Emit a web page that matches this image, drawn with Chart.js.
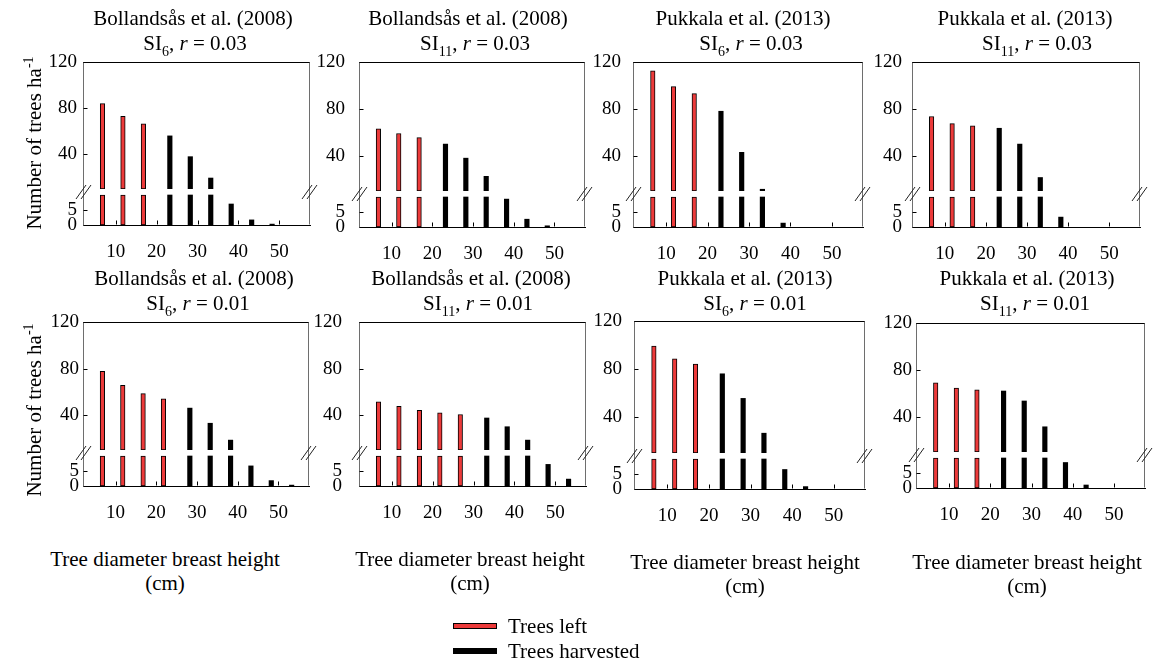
<!DOCTYPE html>
<html lang="en">
<head>
<meta charset="utf-8">
<title>Trees left and harvested by diameter class</title>
<script src="https://cdn.jsdelivr.net/npm/chart.js@4.4.1/dist/chart.umd.min.js"></script>
<style>
  html, body { margin: 0; padding: 0; background: #fff; }
  body {
    position: relative; width: 1167px; height: 666px; overflow: hidden;
    font-family: "Liberation Serif", "Times New Roman", serif; color: #000;
  }
  .panel { position: absolute; }
  .txt {
    position: absolute; font-size: 21px; line-height: 24px;
    white-space: nowrap; transform: translateX(-50%);
  }
  .txt sub { font-size: 14px; line-height: 0; vertical-align: -6px; }
  .ylab {
    position: absolute; font-size: 21px; line-height: 24px; white-space: nowrap;
    transform: translate(-50%, -50%) rotate(-90deg);
  }
  .ylab sup { font-size: 14px; line-height: 0; vertical-align: 8px; }
  .swatch { position: absolute; width: 44px; height: 6px; box-sizing: border-box; }
  .legtxt { position: absolute; font-size: 21px; line-height: 24px; white-space: nowrap; }
</style>
</head>
<body>
<script>
// diameter class mid points (cm) and axis tick values
const classes = [7.5, 12.5, 17.5, 22.5, 27.5, 32.5, 37.5, 42.5, 47.5, 52.5];
const xTicks = [10, 20, 30, 40, 50];
const upperTicks = [40, 80, 120];
const lowerTicks = [0, 5];

// trees per ha left standing / harvested in each diameter class
const bollSI6r03Left = [84, 73, 66.5, null, null, null, null, null, null, null];
const bollSI6r03Cut = [null, null, null, 56, 38, 19.5, 7, 1.7, 0.3, 0];
const bollSI11r03Left = [63, 59, 55.5, null, null, null, null, null, null, null];
const bollSI11r03Cut = [null, null, null, 50, 38, 22.5, 9.3, 2.6, 0.4, 0];
const pukSI6r03Left = [112.5, 99, 93, null, null, null, null, null, null, null];
const pukSI6r03Cut = [null, null, null, 78, 43, 11.5, 1.3, 0, 0, 0];
const pukSI11r03Left = [73.5, 67.5, 65.5, null, null, null, null, null, null, null];
const pukSI11r03Cut = [null, null, null, 63.5, 50, 21.5, 3.3, 0, 0, 0];

const bollSI6r01Left = [77.5, 65.5, 58.5, 54, null, null, null, null, null, null];
const bollSI6r01Cut = [null, null, null, null, 46, 33, 18.5, 6.7, 1.8, 0.3];
const bollSI11r01Left = [51.5, 47.5, 44, 42, 40.5, null, null, null, null, null];
const bollSI11r01Cut = [null, null, null, null, null, 37.5, 30, 18.5, 7.2, 2.3];
const pukSI6r01Left = [99, 88.5, 84, null, null, null, null, null, null, null];
const pukSI6r01Cut = [null, null, null, 76, 55.5, 26.5, 6.5, 0.8, 0, 0];
const pukSI11r01Left = [69, 64.5, 63, null, null, null, null, null, null, null];
const pukSI11r01Cut = [null, null, null, 62, 53.5, 31.5, 8.5, 1, 0, 0];

const sources = [
  "Bollandsås et al. (2008)", "Bollandsås et al. (2008)", "Pukkala et al. (2013)", "Pukkala et al. (2013)",
  "Bollandsås et al. (2008)", "Bollandsås et al. (2008)", "Pukkala et al. (2013)", "Pukkala et al. (2013)",
];
const siteIndex = ["6", "11", "6", "11", "6", "11", "6", "11"];
const rates = ["0.03", "0.03", "0.03", "0.03", "0.01", "0.01", "0.01", "0.01"];

const leftSeries = [bollSI6r03Left, bollSI11r03Left, pukSI6r03Left, pukSI11r03Left,
  bollSI6r01Left, bollSI11r01Left, pukSI6r01Left, pukSI11r01Left];
const cutSeries = [bollSI6r03Cut, bollSI11r03Cut, pukSI6r03Cut, pukSI11r03Cut,
  bollSI6r01Cut, bollSI11r01Cut, pukSI6r01Cut, pukSI11r01Cut];

// page layout
const RED = "#ec3a3a";
const SIDE = "#6e6e6e";
const FONT = '"Liberation Serif", "Times New Roman", serif';
const PAD_L = 60, PAD_T = 34, PAD_R = 12, PAD_B = 45;
const LOWER_H = 36; // px taken by the 0-12 segment under the break
const BREAK = 10;   // value where the axis is broken

// plot areas: left, top, width, height, y tick label gap
const boxes = [
  [83, 62, 227, 163, 6], [359, 62, 226, 165, 14], [633, 62, 230, 165, 12], [912, 62, 228, 165, 10],
  [83, 322, 226, 164, 4], [359, 322, 227, 164, 17], [634, 321, 231, 168, 12], [916, 323, 229, 165, 4],
];
// title centres: [line1 x, line2 x, line1 cap-centre y]
const titlePos = [
  [193, 195, 18], [468, 475, 18], [743, 751, 18], [1025, 1037, 18],
  [194, 198, 278], [471, 478, 278], [745, 755, 278], [1027, 1035, 278],
];
const xTitlePos = [[165, 559], [470, 559], [745, 562], [1027, 562]];

function addText(cls, html, left, top) {
  const d = document.createElement("div");
  d.className = cls;
  d.innerHTML = html;
  d.style.left = left + "px";
  d.style.top = top + "px";
  document.body.appendChild(d);
  return d;
}

// empty classes (null or 0) get no bar at all
const points = (vals) => classes.map((c, i) => ({ x: c, y: vals[i] }));
const upperPart = (vals) => vals.map((v) => (v !== null && v > BREAK ? v : null));
const lowerPart = (vals) => vals.map((v) => (v === null || v === 0 ? null : Math.min(v, BREAK)));

function line(ctx, x1, y1, x2, y2) {
  ctx.beginPath();
  ctx.moveTo(x1, y1);
  ctx.lineTo(x2, y2);
  ctx.stroke();
}

// frame, inward tick marks and the "//" break symbols
const framePlugin = {
  id: "frame",
  afterDraw(chart) {
    const { ctx, chartArea: a, scales } = chart;
    const L = Math.round(a.left) + 0.5, R = Math.round(a.right) - 0.5;
    const T = Math.round(a.top) + 0.5, B = Math.round(a.bottom) - 0.5;
    ctx.save();
    ctx.lineWidth = 1;
    ctx.strokeStyle = "#000";
    line(ctx, L, T, R + 0.5, T);
    ctx.strokeStyle = SIDE;
    line(ctx, R, T, R, B);

    ctx.strokeStyle = "#000";
    xTicks.forEach((v) => {
      const px = Math.round(scales.x.getPixelForValue(v)) + 0.5;
      line(ctx, px, B, px, B - 4);
    });
    upperTicks.forEach((v) => {
      const py = Math.round(scales.yUp.getPixelForValue(v)) + 0.5;
      line(ctx, L, py, L + 4, py);
    });
    lowerTicks.forEach((v) => {
      const py = Math.round(scales.yLo.getPixelForValue(v)) + 0.5;
      line(ctx, L, py, L + 4, py);
    });

    const yc = (scales.yLo.getPixelForValue(BREAK) + scales.yUp.getPixelForValue(BREAK)) / 2;
    ctx.strokeStyle = "#222";
    [L, R].forEach((x) => {
      [-2.5, 2.5].forEach((d) => line(ctx, x - 5 + d, yc + 7, x + 5 + d, yc - 7));
    });
    ctx.restore();
  },
};

function tickFont() {
  return { family: FONT, size: 19 };
}

function makePanel(i) {
  const [left, top, w, h, tickPad] = boxes[i];
  const wrap = document.createElement("div");
  wrap.className = "panel";
  wrap.style.left = left - PAD_L + "px";
  wrap.style.top = top - PAD_T + "px";
  wrap.style.width = w + PAD_L + PAD_R + "px";
  wrap.style.height = h + PAD_T + PAD_B + "px";
  const canvas = document.createElement("canvas");
  wrap.appendChild(canvas);
  document.body.appendChild(wrap);

  const bar = { barThickness: 6, maxBarThickness: 4.5, borderSkipped: false };
  const leftStyle = { backgroundColor: RED, borderColor: "#000", borderWidth: 1, stack: "left" };
  const cutStyle = { backgroundColor: "#000", borderWidth: 0, stack: "harvested" };

  return new Chart(canvas, {
    type: "bar",
    data: {
      datasets: [
        { label: "Trees left", data: points(upperPart(leftSeries[i])), yAxisID: "yUp", base: BREAK, ...bar, ...leftStyle },
        { label: "Trees left", data: points(lowerPart(leftSeries[i])), yAxisID: "yLo", base: 0, ...bar, ...leftStyle },
        { label: "Trees harvested", data: points(upperPart(cutSeries[i])), yAxisID: "yUp", base: BREAK, ...bar, ...cutStyle },
        { label: "Trees harvested", data: points(lowerPart(cutSeries[i])), yAxisID: "yLo", base: 0, ...bar, ...cutStyle },
      ],
    },
    options: {
      responsive: true,
      maintainAspectRatio: false,
      animation: false,
      layout: { padding: { left: 0, top: PAD_T, right: PAD_R, bottom: 0 } },
      plugins: { legend: { display: false }, tooltip: { enabled: false } },
      scales: {
        x: {
          type: "linear",
          offset: false,
          min: 2,
          max: 57.5,
          afterBuildTicks: (s) => { s.ticks = xTicks.map((v) => ({ value: v })); },
          afterFit: (s) => { s.height = PAD_B; },
          grid: { display: false, drawTicks: false, offset: false },
          border: { color: "#000", width: 1 },
          ticks: { color: "#000", font: tickFont(), padding: 16, autoSkip: false, maxRotation: 0 },
        },
        // stacked axes are laid out bottom-up, so the lower segment comes first
        yLo: {
          type: "linear",
          position: "left",
          stack: "count",
          stackWeight: LOWER_H,
          stacked: false,
          min: 0,
          max: 12,
          afterBuildTicks: (s) => { s.ticks = lowerTicks.map((v) => ({ value: v })); },
          afterFit: (s) => { s.width = PAD_L; },
          grid: { display: false, drawTicks: false },
          border: { color: SIDE, width: 1 },
          ticks: { color: "#000", font: tickFont(), padding: tickPad, autoSkip: false },
        },
        yUp: {
          type: "linear",
          position: "left",
          stack: "count",
          stackWeight: h - LOWER_H,
          stacked: false,
          min: BREAK,
          max: 120,
          afterBuildTicks: (s) => { s.ticks = upperTicks.map((v) => ({ value: v })); },
          afterFit: (s) => { s.width = PAD_L; },
          grid: { display: false, drawTicks: false },
          border: { color: SIDE, width: 1 },
          ticks: { color: "#000", font: tickFont(), padding: tickPad, autoSkip: false },
        },
      },
    },
    plugins: [framePlugin],
  });
}

for (let i = 0; i < boxes.length; i++) {
  makePanel(i);
  const [x1, x2, yc] = titlePos[i];
  addText("txt", sources[i], x1, yc - 12);
  addText("txt", "SI<sub>" + siteIndex[i] + "</sub>, <i>r</i> = " + rates[i], x2, yc + 25 - 12);
}

// axis titles
addText("ylab", "Number of trees ha<sup>-1</sup>", 34, 143);
addText("ylab", "Number of trees ha<sup>-1</sup>", 34, 410);
xTitlePos.forEach(([x, y]) => {
  addText("txt", "Tree diameter breast height", x, y - 12);
  addText("txt", "(cm)", x, y + 24 - 12);
});

// legend
const sw1 = addText("swatch", "", 453, 623);
sw1.style.background = RED;
sw1.style.border = "1px solid #000";
addText("legtxt", "Trees left", 508, 614);
const sw2 = addText("swatch", "", 453, 648);
sw2.style.background = "#000";
addText("legtxt", "Trees harvested", 508, 639);
</script>
</body>
</html>
